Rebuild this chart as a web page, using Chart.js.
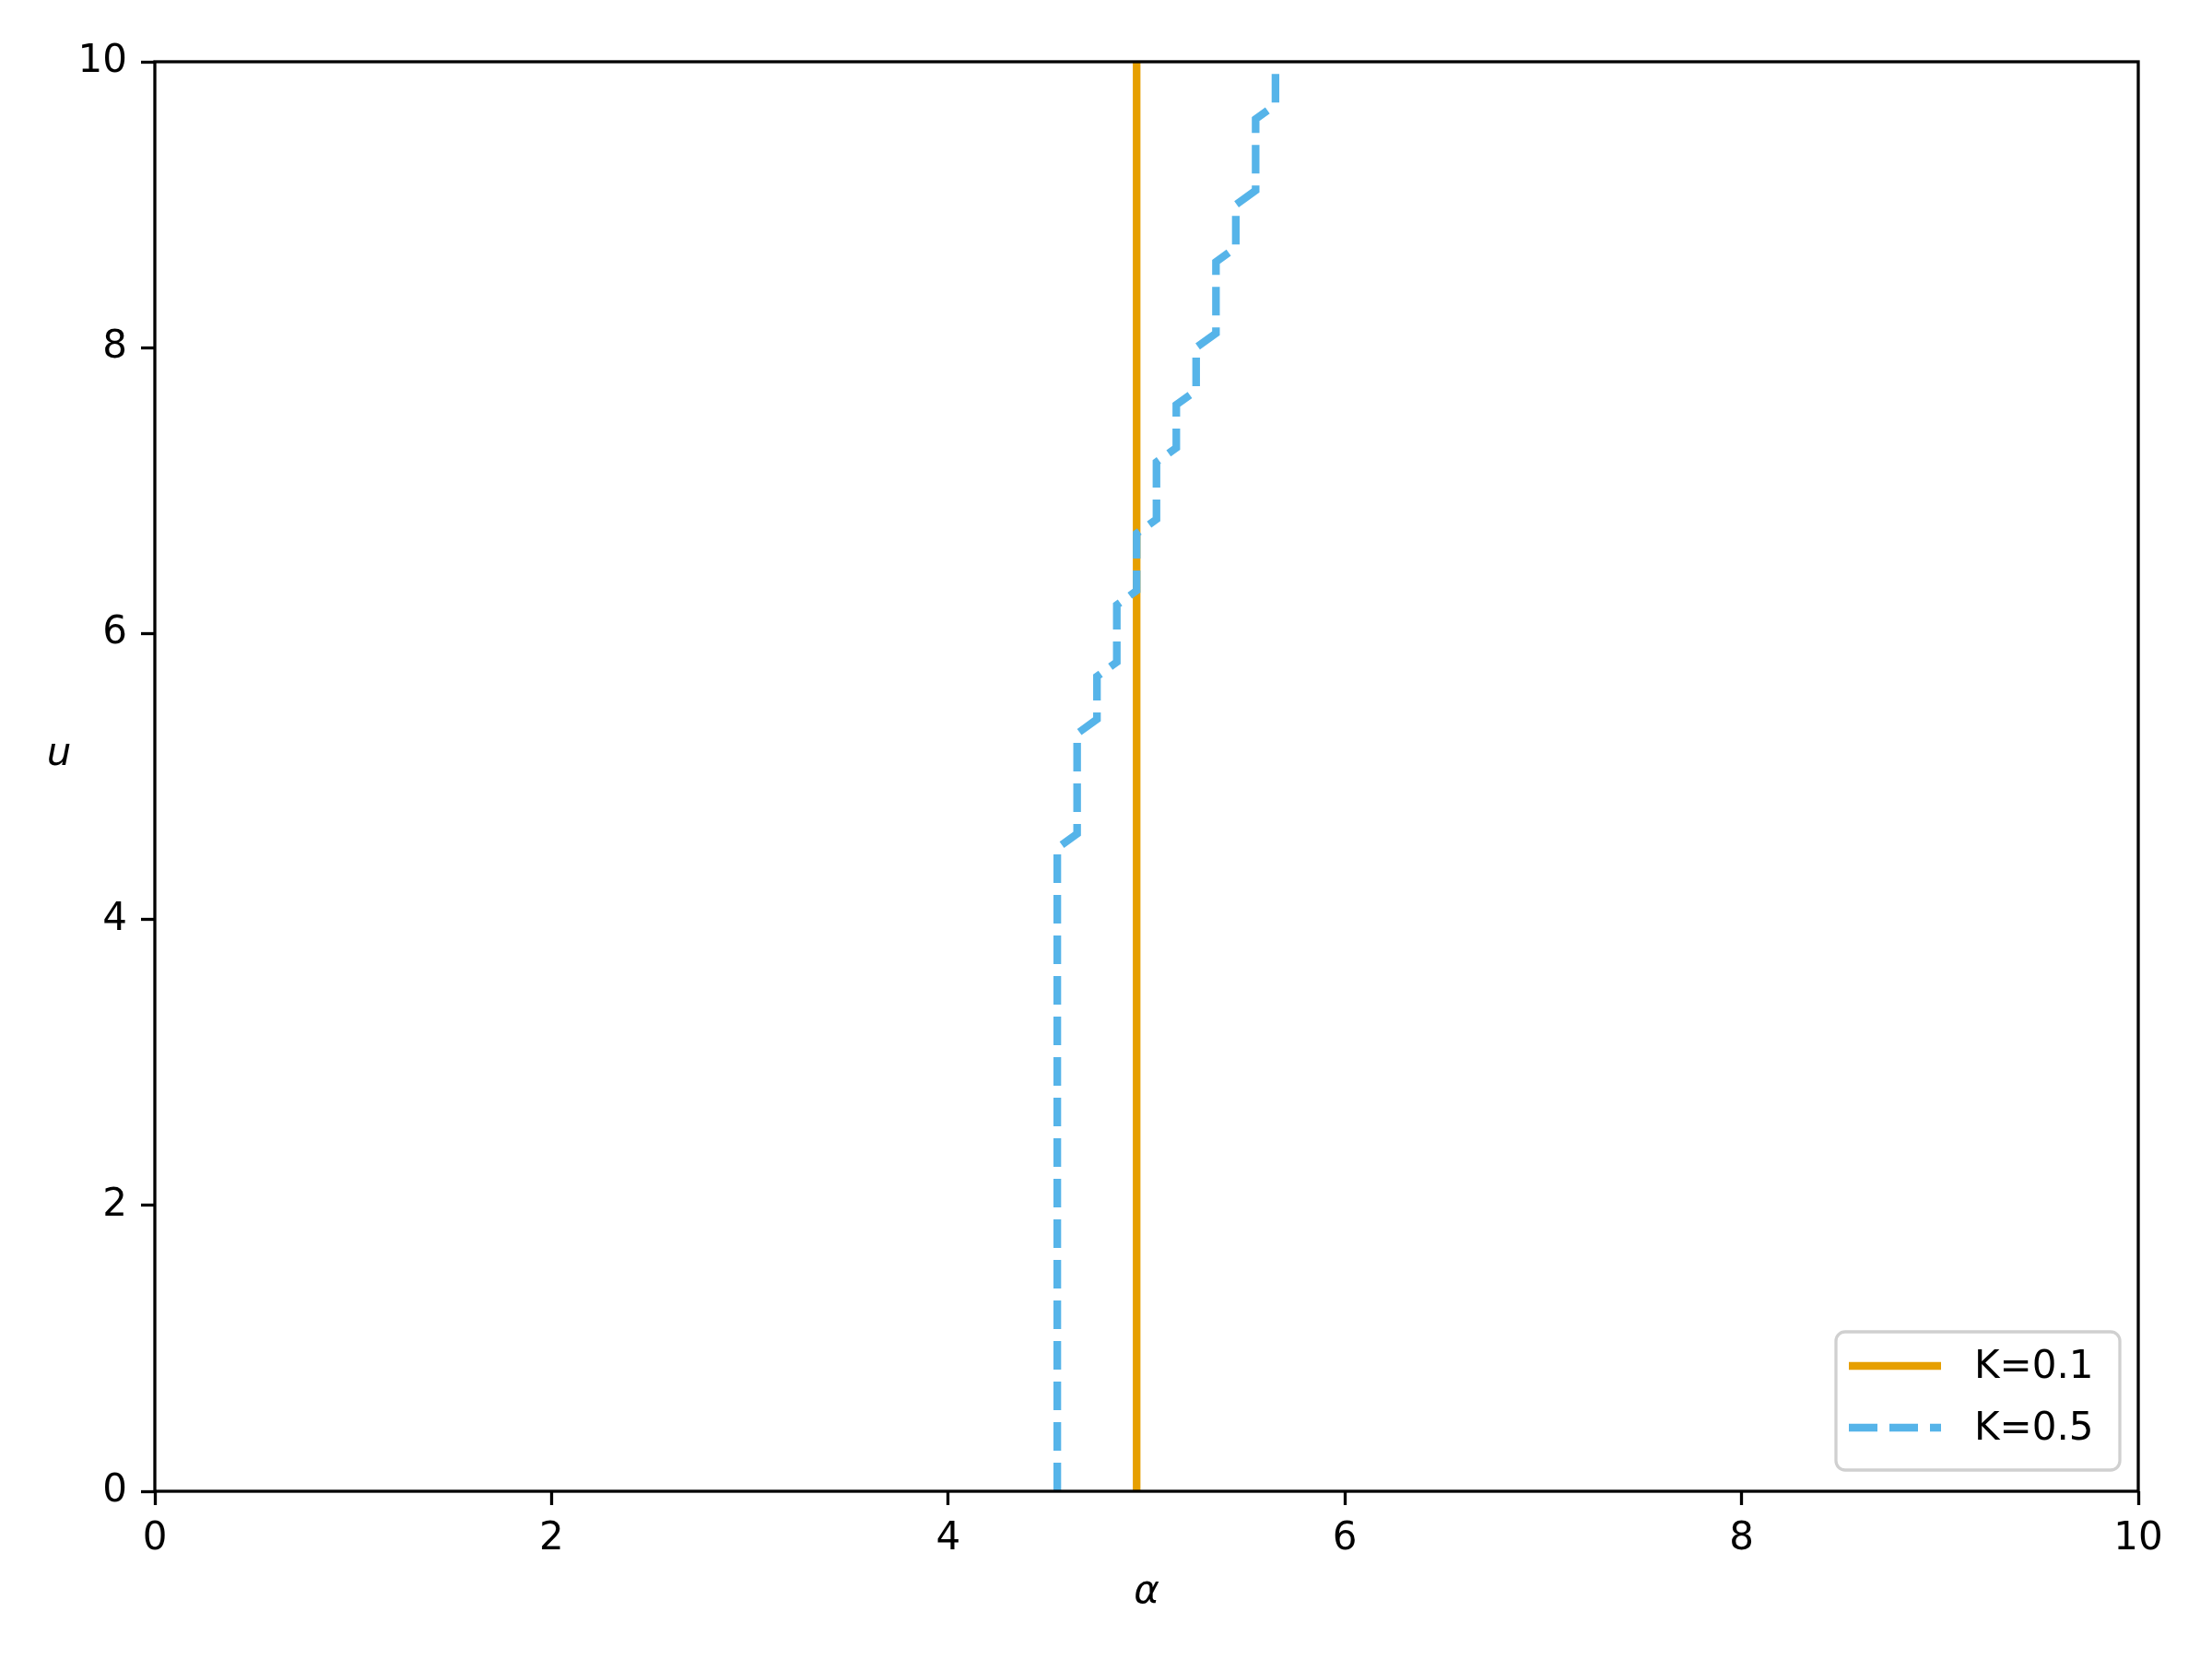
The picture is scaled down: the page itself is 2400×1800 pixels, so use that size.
<!DOCTYPE html>
<html>
<head>
<meta charset="utf-8">
<script src="https://cdn.jsdelivr.net/npm/chart.js@4.4.1/dist/chart.umd.min.js"></script>
<style>
    body { margin: 0; background: #fff; }
</style>
</head>
<body>
<canvas id="stabilityChart" width="2400" height="1800"></canvas>
<script>
// K=0.1 : one vertical line
const alphaK01 = [4.95, 4.95];
const uK01 = [0, 10];

// K=0.5 : staircase boundary
const alphaK05 = [4.55, 4.55, 4.65, 4.65, 4.75, 4.75, 4.85, 4.85, 4.95, 4.95, 5.05, 5.05,
                  5.15, 5.15, 5.25, 5.25, 5.35, 5.35, 5.45, 5.45, 5.55, 5.55, 5.65, 5.65];
const uK05 = [0, 4.5, 4.6, 5.3, 5.4, 5.7, 5.8, 6.2, 6.3, 6.7, 6.8, 7.2,
              7.3, 7.6, 7.7, 8.0, 8.1, 8.6, 8.7, 9.0, 9.1, 9.6, 9.7, 10];

const seriesLabels = ['K=0.1', 'K=0.5'];
const seriesColors = ['#E69F00', '#56B4E9'];
const xLabel = 'α';
const yLabel = 'u';

function toPoints(xs, ys) {
    return xs.map((x, i) => ({ x: x, y: ys[i] }));
}

const FONT = '"DejaVu Sans", sans-serif';
const DASH = [31, 13];

// 外框、軸標題與圖例
const framePlugin = {
    id: 'frame',
    afterDraw(chart) {
        const ctx = chart.ctx;
        const a = chart.chartArea;
        ctx.save();
        ctx.strokeStyle = '#000';
        ctx.lineWidth = 3.3;
        ctx.strokeRect(a.left, a.top, a.right - a.left, a.bottom - a.top);

        ctx.fillStyle = '#000';
        ctx.font = 'italic 42px ' + FONT;
        ctx.textAlign = 'center';
        ctx.textBaseline = 'middle';
        ctx.fillText(xLabel, (a.left + a.right) / 2, 1728);
        ctx.fillText(yLabel, 64, 819);

        // legend (lower right)
        const bx = 1992, by = 1445, bw = 308, bh = 150, r = 10;
        ctx.beginPath();
        ctx.roundRect(bx, by, bw, bh, r);
        ctx.fillStyle = 'rgba(255,255,255,0.8)';
        ctx.fill();
        ctx.strokeStyle = '#d0d0d0';
        ctx.lineWidth = 3.3;
        ctx.stroke();

        const rows = [1482, 1549];
        ctx.font = '42px ' + FONT;
        ctx.textAlign = 'left';
        seriesLabels.forEach((label, i) => {
            ctx.beginPath();
            ctx.strokeStyle = seriesColors[i];
            ctx.lineWidth = 8.3;
            ctx.lineCap = 'butt';
            ctx.setLineDash(i === 1 ? DASH : []);
            ctx.moveTo(2006, rows[i]);
            ctx.lineTo(2106, rows[i]);
            ctx.stroke();
            ctx.setLineDash([]);
            ctx.fillStyle = '#000';
            ctx.fillText(label, 2142, rows[i] + 2);
        });
        ctx.restore();
    }
};

const axisCommon = {
    type: 'linear',
    min: 0,
    max: 10,
    grid: {
        display: true,
        drawOnChartArea: false,
        drawTicks: true,
        tickLength: 15,
        tickWidth: 3.3,
        color: '#000'
    },
    border: { display: false },
    ticks: {
        stepSize: 2,
        color: '#000',
        font: { family: 'DejaVu Sans', size: 42 }
    }
};

const ctx = document.getElementById('stabilityChart').getContext('2d');
new Chart(ctx, {
    type: 'line',
    data: {
        datasets: [{
            label: seriesLabels[0],
            data: toPoints(alphaK01, uK01),
            borderColor: seriesColors[0],
            borderWidth: 8.3,
            pointRadius: 0,
            tension: 0,
            fill: false,
            order: 1
        }, {
            label: seriesLabels[1],
            data: toPoints(alphaK05, uK05),
            borderColor: seriesColors[1],
            borderWidth: 8.3,
            borderDash: DASH,
            borderCapStyle: 'butt',
            pointRadius: 0,
            tension: 0,
            fill: false,
            order: 0
        }]
    },
    options: {
        responsive: false,
        animation: false,
        layout: {
            padding: { top: 67, right: 80, left: 0, bottom: 0 }
        },
        plugins: {
            legend: { display: false },
            tooltip: { enabled: false }
        },
        scales: {
            x: Object.assign({}, axisCommon, {
                position: 'bottom',
                ticks: Object.assign({}, axisCommon.ticks, { padding: 12, maxRotation: 0 }),
                afterFit: function (scale) { scale.height = 182; }
            }),
            y: Object.assign({}, axisCommon, {
                position: 'left',
                ticks: Object.assign({}, axisCommon.ticks, { padding: 15 }),
                afterFit: function (scale) { scale.width = 168; }
            })
        }
    },
    plugins: [framePlugin]
});
</script>
</body>
</html>
